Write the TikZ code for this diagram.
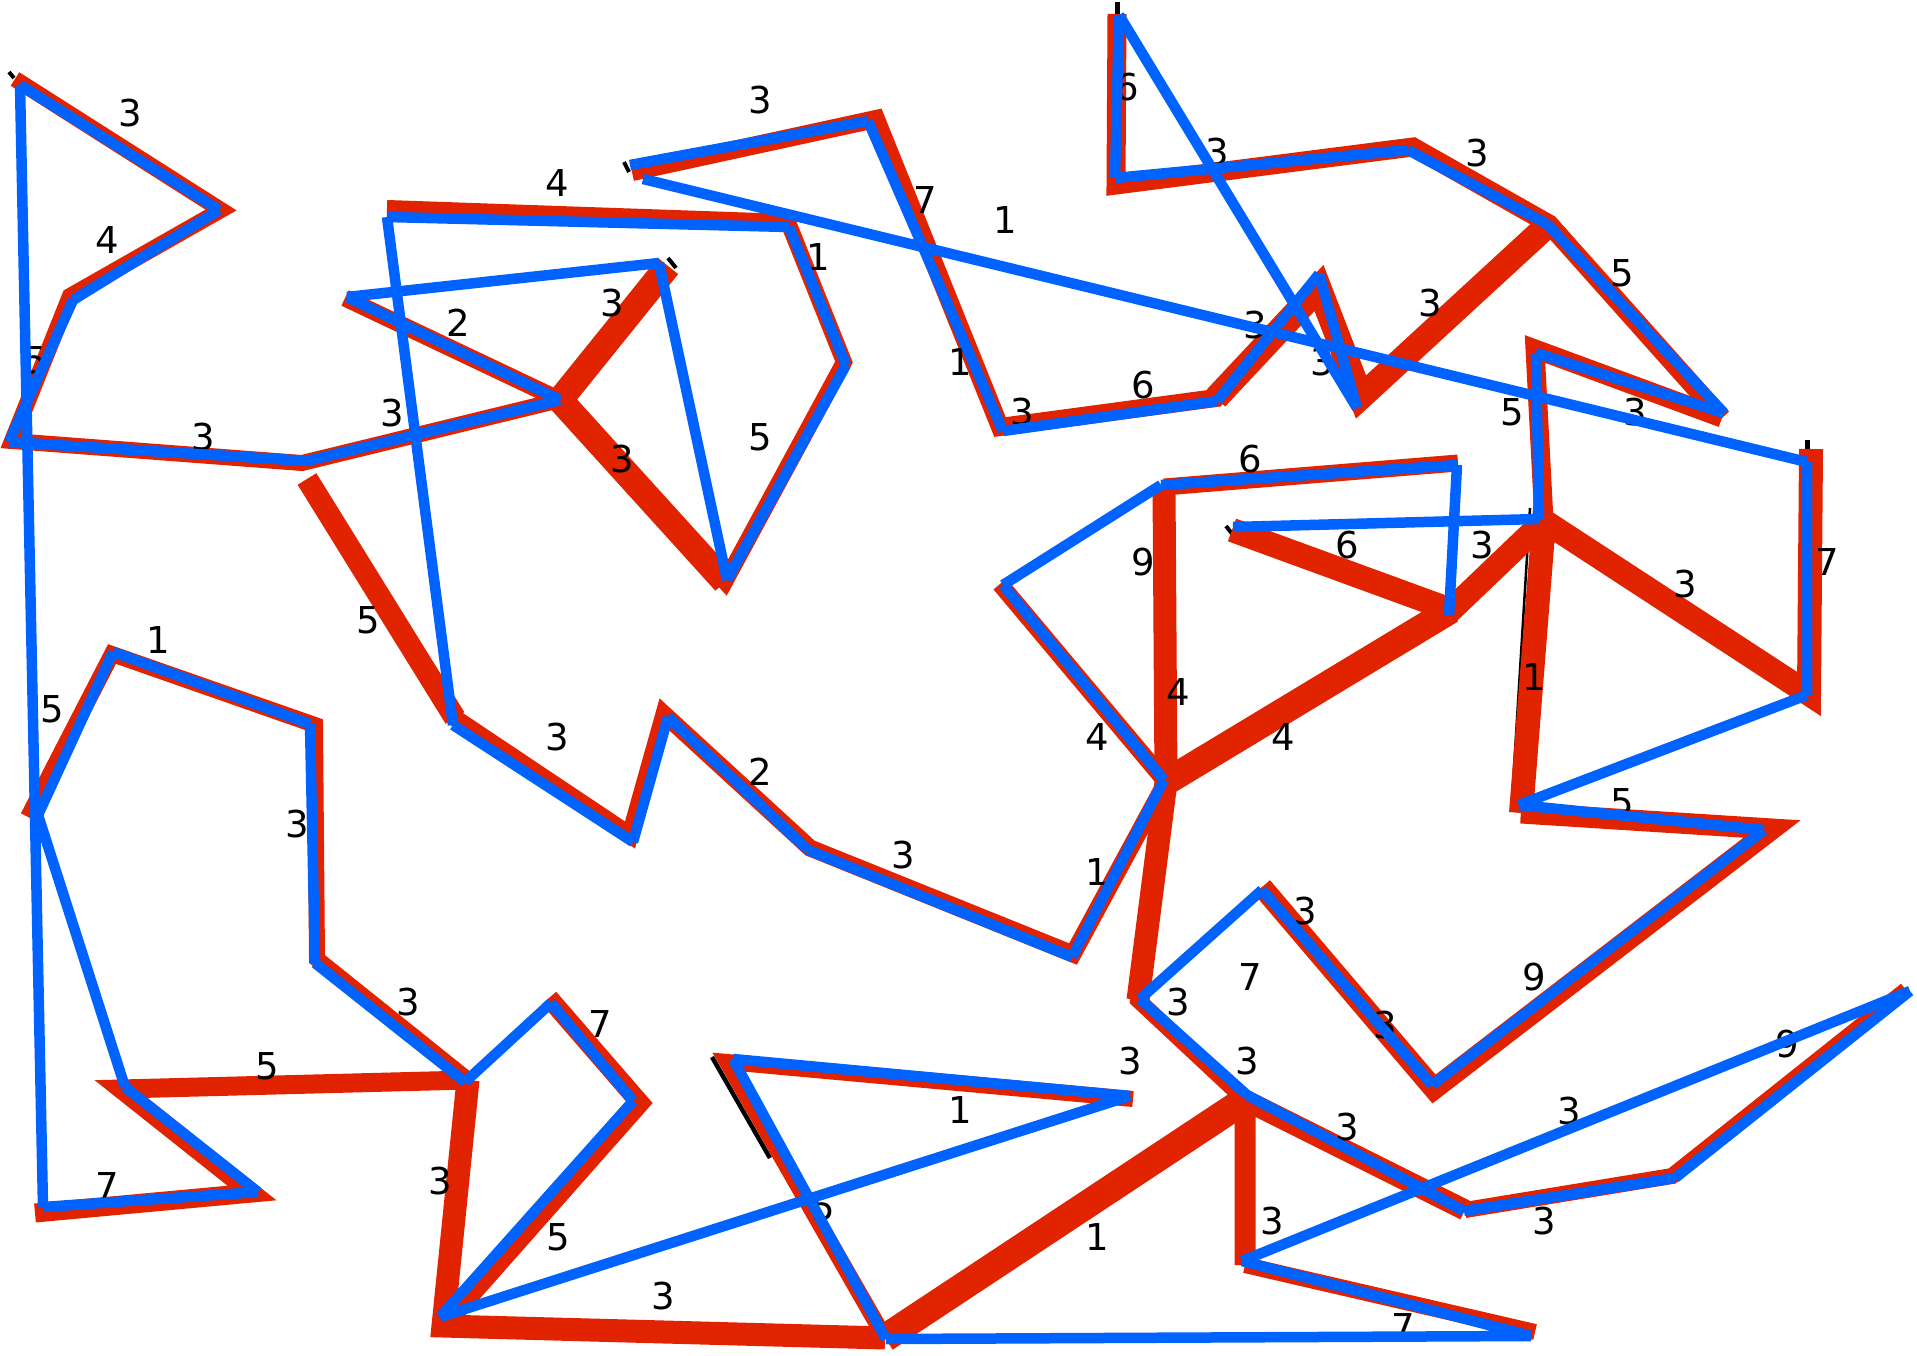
\documentclass[tikz,border=0pt]{standalone}
\usepackage{fontspec}
\setmainfont{DejaVu Sans}
\definecolor{rd}{RGB}{225,35,0}
\definecolor{bl}{RGB}{0,98,255}
\begin{document}
\begin{tikzpicture}[x=1pt,y=-1pt,
  redl/.style={draw=rd, line join=miter, line cap=butt},
  bluel/.style={draw=bl, line width=10.5pt, line cap=butt},
  blk/.style={draw=black, line cap=butt},
  lab/.style={font=\fontsize{37}{44}\selectfont, inner sep=0pt, text=black}]
\fill[white] (0,0) rectangle (1917,1356);
\useasboundingbox (0,0) rectangle (1917,1356);
% red vertices
\coordinate (rA) at (15,79);   \coordinate (rB) at (221,210); \coordinate (rC) at (70,296);
\coordinate (rD) at (12,441);  \coordinate (rE) at (302,463); \coordinate (rF) at (560,400);
\coordinate (rG) at (345,298); \coordinate (rH) at (668,266); \coordinate (rI) at (725,582);
\coordinate (rJ) at (844,362); \coordinate (rK) at (788,222); \coordinate (rL) at (387,208);
\coordinate (rM) at (632,172); \coordinate (rN) at (876,119); \coordinate (rO) at (1000,427);
\coordinate (rP) at (1216,398); \coordinate (rQ) at (1319,288); \coordinate (rR) at (1361,397);
\coordinate (rS) at (1549,224); \coordinate (rT) at (1413,147); \coordinate (rU) at (1116,185);
\coordinate (rV) at (1117,14); \coordinate (rW) at (1722,418); \coordinate (rX) at (1535,349);
\coordinate (rY) at (1544,521); \coordinate (rZ) at (1809,694); \coordinate (rAA) at (1811,449);
\coordinate (rAB) at (1521,813); \coordinate (rAC) at (1772,829); \coordinate (rAD) at (1434,1089);
\coordinate (rAE) at (1262,887); \coordinate (rAF) at (1451,610); \coordinate (rAG) at (1232,530);
\coordinate (rAH) at (1166,782); \coordinate (rAI) at (1164,487); \coordinate (rAJ) at (1458,463);
\coordinate (rAK) at (1000,584); \coordinate (rAL) at (1073,954); \coordinate (rAM) at (810,848);
\coordinate (rAN) at (664,714); \coordinate (rAO) at (630,835); \coordinate (rAP) at (455,718);
\coordinate (rAQ) at (307,479); \coordinate (rAR) at (1138,1000); \coordinate (rAS) at (1245,1100);
\coordinate (rAT) at (885,1338); \coordinate (rAU) at (1245,1265); \coordinate (rAV) at (1465,1210);
\coordinate (rAW) at (1672,1176); \coordinate (rAX) at (1906,990); \coordinate (rAY) at (1535,1332);
\coordinate (rAZ) at (443,1326); \coordinate (rBA) at (727,1062); \coordinate (rBB) at (1133,1099);
\coordinate (rBC) at (468,1080); \coordinate (rBD) at (640,1103); \coordinate (rBE) at (549,998);
\coordinate (rBF) at (317,959); \coordinate (rBG) at (315,725); \coordinate (rBH) at (112,654);
\coordinate (rBI) at (28,817); \coordinate (rBJ) at (121,1089); \coordinate (rBK) at (252,1193);
\coordinate (rBL) at (35,1213);
% blue vertices
\coordinate (bA) at (20,85);   \coordinate (bB) at (219,210); \coordinate (bC) at (73,300);
\coordinate (bD) at (9,442);   \coordinate (bE) at (307,461); \coordinate (bF) at (560,400);
\coordinate (bG) at (347,297); \coordinate (bH) at (659,263); \coordinate (bI) at (727,580);
\coordinate (bJ) at (846,365); \coordinate (bK) at (789,227); \coordinate (bL) at (387,217);
\coordinate (bAP) at (453,725); \coordinate (bAO) at (633,842); \coordinate (bAN) at (668,717);
\coordinate (bAM) at (808,850); \coordinate (bAL) at (1072,957); \coordinate (bAH) at (1164,780);
\coordinate (bAK) at (1003,585); \coordinate (bAI) at (1161,485); \coordinate (bAJ) at (1457,465);
\coordinate (bAF) at (1449,615); \coordinate (bAG) at (1233,527); \coordinate (bY) at (1539,519);
\coordinate (bX) at (1536,353); \coordinate (bW) at (1724,413); \coordinate (bS) at (1547,224);
\coordinate (bT) at (1408,150); \coordinate (bU) at (1115,178); \coordinate (bV) at (1119,15);
\coordinate (bR) at (1357,408); \coordinate (bQ) at (1319,274); \coordinate (bP) at (1217,401);
\coordinate (bO) at (1003,431); \coordinate (bN) at (868,121); \coordinate (bM) at (630,165);
\coordinate (bMx) at (643,179); \coordinate (bAA) at (1807,462); \coordinate (bZ) at (1807,695);
\coordinate (bAB) at (1519,805); \coordinate (bAC) at (1764,830); \coordinate (bAD) at (1432,1085);
\coordinate (bAE) at (1262,890); \coordinate (bAR) at (1140,999); \coordinate (bAS) at (1247,1095);
\coordinate (bAV) at (1464,1211); \coordinate (bAW) at (1675,1178); \coordinate (bAX) at (1910,991);
\coordinate (bAU) at (1242,1261); \coordinate (bAY) at (1531,1336); \coordinate (bAT) at (886,1339);
\coordinate (bBA) at (733,1059); \coordinate (bBB) at (1130,1096); \coordinate (bAZ) at (440,1317);
\coordinate (bBD) at (633,1101); \coordinate (bBE) at (551,1003); \coordinate (bBC) at (465,1082);
\coordinate (bBF) at (315,963); \coordinate (bBG) at (310,724); \coordinate (bBH) at (113,652);
\coordinate (bBI) at (38,815); \coordinate (bBJ) at (125,1087); \coordinate (bBK) at (258,1192);
\coordinate (bBL) at (43,1207);
% black mark ends
\coordinate (k1a) at (9,72);    \coordinate (k1b) at (14,78);
\coordinate (k2a) at (1117,2);  \coordinate (k2b) at (1117,14);
\coordinate (k3a) at (1807,440); \coordinate (k3b) at (1807,452);
\coordinate (k4a) at (624,162); \coordinate (k4b) at (629,172);
\coordinate (k5a) at (668,258); \coordinate (k5b) at (676,268);
\coordinate (k6a) at (1226,526); \coordinate (k6b) at (1233,535);
\coordinate (k7a) at (712,1057); \coordinate (k7b) at (770,1158);
\coordinate (k8a) at (1530,508); \coordinate (k8b) at (1512,800);
\coordinate (k9a) at (1258,1103); \coordinate (k9b) at (1290,1117);
% black marks
\draw[blk, line width=4pt] (k1a)--(k1b);
\draw[blk, line width=5pt] (k2a)--(k2b);
\draw[blk, line width=5pt] (k3a)--(k3b);
\draw[blk, line width=4pt] (k4a)--(k4b);
\draw[blk, line width=4pt] (k5a)--(k5b);
\draw[blk, line width=4pt] (k6a)--(k6b);
\draw[blk, line width=4.5pt] (k7a)--(k7b);
\draw[blk, line width=2.5pt] (k8a)--(k8b);
\draw[blk, line width=2pt] (k9a)--(k9b);
% red paths
\draw[redl, line width=16pt] (rA)--(rB)--(rC)--(rD)--(rE)--(rF);
\draw[redl, line width=17pt] (rG)--(rF);
\draw[redl, line width=26pt] (rH)--(rF)--(rI);
\draw[redl, line width=16pt] (rF)--(rI)--(rJ)--(rK)--(rL);
\draw[redl, line width=18pt] (rM)--(rN)--(rO)--(rP)--(rQ)--(rR)--(rS);
\draw[redl, line width=25pt] (rP)--(rQ)--(rR)--(rS);
\draw[redl, line width=19pt] (rV)--(rU)--(rT)--(rS)--(rW);
\draw[redl, line width=19pt] (rW)--(rX)--(rY);
\draw[redl, line width=24pt] (rAA)--(rZ)--(rY)--(rAB);
\draw[redl, line width=17pt] (rAB)--(rAC);
\draw[redl, line width=21pt] (rAB)--(rAC)--(rAD)--(rAE);
\draw[redl, line width=24pt] (rAG)--(rAF)--(rY);
\draw[redl, line width=27pt] (rAF)--(rAH);
\draw[redl, line width=23pt] (rAI)--(rAH)--(rAR);
\draw[redl, line width=17pt] (rAI)--(rAJ);
\draw[redl, line width=17pt] (rAK)--(rAH)--(rAL)--(rAM)--(rAN)--(rAO)--(rAP);
\draw[redl, line width=22pt] (rAP)--(rAQ);
\draw[redl, line width=16pt] (rAH)--(rAR)--(rAS);
\draw[redl, line width=28pt] (rAS)--(rAT);
\draw[redl, line width=21pt] (rAU)--(rAS)--(rAV);
\draw[redl, line width=16pt] (rAV)--(rAW)--(rAX);
\draw[redl, line width=16pt] (rAU)--(rAY);
\draw[redl, line width=23pt] (rBC)--(rAZ)--(rAT);
\draw[redl, line width=16pt] (rBB)--(rBA)--(rAT);
\draw[redl, line width=19pt] (rAZ)--(rBD)--(rBE);
\draw[redl, line width=16pt] (rBC)--(rBF)--(rBG)--(rBH)--(rBI);
\draw[redl, line width=19pt] (rBC)--(rBJ)--(rBK)--(rBL);
% labels
\node[lab] (l1) at (130,113) {3};  \node[lab] (l2) at (107,240) {4};  \node[lab] (l3) at (35,360) {5};
\node[lab] (l4) at (203,437) {3};  \node[lab] (l5) at (458,323) {2};  \node[lab] (l6) at (392,413) {3};
\node[lab] (l7) at (557,183) {4};  \node[lab] (l8) at (760,100) {3};  \node[lab] (l9) at (925,200) {7};
\node[lab] (l10) at (818,257) {1}; \node[lab] (l11) at (612,303) {3}; \node[lab] (l12) at (760,437) {5};
\node[lab] (l13) at (622,459) {3}; \node[lab] (l14) at (1127,87) {6}; \node[lab] (l15) at (1217,152) {3};
\node[lab] (l16) at (1005,220) {1}; \node[lab] (l17) at (1255,325) {3}; \node[lab] (l18) at (1322,362) {3};
\node[lab] (l19) at (1143,385) {6}; \node[lab] (l20) at (1022,412) {3}; \node[lab] (l21) at (960,362) {1};
\node[lab] (l22) at (1430,303) {3}; \node[lab] (l23) at (1477,153) {3}; \node[lab] (l24) at (1622,273) {5};
\node[lab] (l25) at (1512,412) {5}; \node[lab] (l26) at (1635,412) {3}; \node[lab] (l27) at (368,620) {5};
\node[lab] (l28) at (158,640) {1}; \node[lab] (l29) at (52,709) {5};  \node[lab] (l30) at (297,824) {3};
\node[lab] (l31) at (557,737) {3}; \node[lab] (l32) at (760,772) {2}; \node[lab] (l33) at (903,855) {3};
\node[lab] (l34) at (1250,459) {6}; \node[lab] (l35) at (1143,562) {9}; \node[lab] (l36) at (1347,545) {6};
\node[lab] (l37) at (1178,692) {4}; \node[lab] (l38) at (1097,737) {4}; \node[lab] (l39) at (1283,737) {4};
\node[lab] (l40) at (1097,872) {1}; \node[lab] (l41) at (1482,545) {3}; \node[lab] (l42) at (1685,584) {3};
\node[lab] (l43) at (1827,562) {7}; \node[lab] (l44) at (1534,677) {1}; \node[lab] (l45) at (1622,802) {5};
\node[lab] (l46) at (408,1002) {3}; \node[lab] (l47) at (267,1066) {5}; \node[lab] (l48) at (107,1186) {7};
\node[lab] (l49) at (440,1181) {3}; \node[lab] (l50) at (600,1024) {7}; \node[lab] (l51) at (558,1237) {5};
\node[lab] (l52) at (663,1296) {3}; \node[lab] (l53) at (823,1207) {5}; \node[lab] (l54) at (1250,977) {7};
\node[lab] (l55) at (1178,1002) {3}; \node[lab] (l56) at (1130,1061) {3}; \node[lab] (l57) at (1247,1061) {3};
\node[lab] (l58) at (1347,1127) {3}; \node[lab] (l59) at (1097,1237) {1}; \node[lab] (l60) at (1272,1221) {3};
\node[lab] (l61) at (1403,1327) {7}; \node[lab] (l62) at (1305,911) {3}; \node[lab] (l63) at (1385,1025) {3};
\node[lab] (l64) at (1534,977) {9}; \node[lab] (l65) at (1787,1044) {9}; \node[lab] (l66) at (1569,1111) {3};
\node[lab] (l67) at (1544,1221) {3}; \node[lab] (l68) at (960,1110) {1};
% blue tour
\draw[bluel] (bA)--(bB) (bB)--(bC) (bC)--(bD) (bD)--(bE) (bE)--(bF) (bF)--(bG)
  (bG)--(bH) (bH)--(bI) (bI)--(bJ) (bJ)--(bK) (bK)--(bL) (bL)--(bAP) (bAP)--(bAO)
  (bAO)--(bAN) (bAN)--(bAM) (bAM)--(bAL) (bAL)--(bAH) (bAH)--(bAK) (bAK)--(bAI)
  (bAI)--(bAJ) (bAJ)--(bAF) (bAG)--(bY) (bY)--(bX) (bX)--(bW) (bW)--(bS) (bS)--(bT)
  (bT)--(bU) (bU)--(bV) (bV)--(bR) (bR)--(bQ) (bQ)--(bP) (bP)--(bO) (bO)--(bN)
  (bN)--(bM) (bMx)--(bAA) (bAA)--(bZ) (bZ)--(bAB) (bAB)--(bAC) (bAC)--(bAD)
  (bAD)--(bAE) (bAE)--(bAR) (bAR)--(bAS) (bAS)--(bAV) (bAV)--(bAW) (bAW)--(bAX)
  (bAX)--(bAU) (bAU)--(bAY) (bAY)--(bAT) (bAT)--(bBA) (bBA)--(bBB) (bBB)--(bAZ)
  (bAZ)--(bBD) (bBD)--(bBE) (bBE)--(bBC) (bBC)--(bBF) (bBF)--(bBG) (bBG)--(bBH)
  (bBH)--(bBI) (bBI)--(bBJ) (bBJ)--(bBK) (bBK)--(bBL) (bBL)--(bA);
\end{tikzpicture}
\end{document}
